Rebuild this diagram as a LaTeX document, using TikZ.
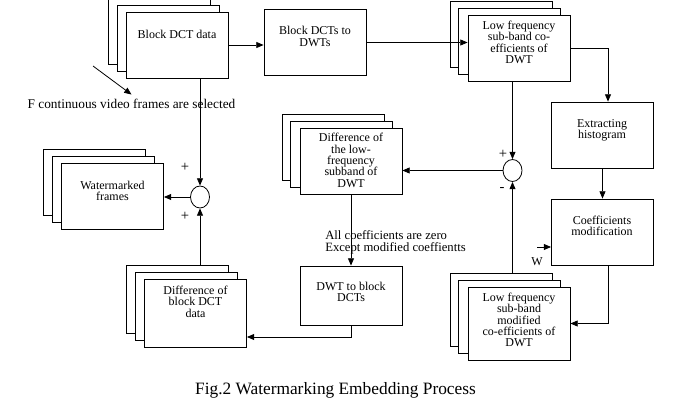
\documentclass[tikz,border=0pt]{standalone}
\usepackage{fontspec}
\setmainfont{Liberation Serif}
\usetikzlibrary{arrows.meta,shapes.geometric,shadows,calc}
\begin{document}
\begin{tikzpicture}[x=0.75pt,y=-0.75pt,
  blk/.style={draw,fill=white,line width=0.6pt,minimum width=76.5pt,minimum height=49.5pt,inner sep=0pt},
  stack/.style={blk,copy shadow={shadow xshift=-13.5pt,shadow yshift=10pt,line width=0.6pt},
    copy shadow={shadow xshift=-7pt,shadow yshift=5pt,line width=0.6pt}},
  txt/.style={align=center,font=\fontsize{9}{8.5}\selectfont,inner sep=0pt},
  sign/.style={inner sep=0pt,font=\fontsize{11}{11}\selectfont},
  sum/.style={draw,ellipse,line width=0.6pt,minimum width=14.25pt,minimum height=16.5pt,inner sep=0pt},
  arr/.style={line width=0.6pt,-{Triangle[length=5.5pt,width=4.5pt]}},
  note/.style={font=\fontsize{10}{11}\selectfont}]
  \useasboundingbox (0,0) rectangle (684,407);
  \node[stack] (bd) at (177.5,45) {};
  \node[txt] (bdt) at (177,34) {Block DCT data};
  \node[blk] (bdw) at (315,42.5) {};
  \node[txt] (bdwt) at (315,36.5) {Block DCTs to\\DWTs};
  \node[stack] (lf) at (519,48) {};
  \node[txt] (lft) at (519,42.5) {Low frequency\\sub-band co-\\efficients of\\DWT};
  \node[blk] (eh) at (602.5,135) {};
  \node[txt] (eht) at (602,130) {Extracting\\histogram};
  \node[blk] (cm) at (602.5,232) {};
  \node[txt] (cmt) at (602,226) {Coefficients\\modification};
  \node[stack,minimum height=54.75pt] (lfm) at (519,323.5) {};
  \node[txt] (lfmt) at (519,320) {Low frequency\\sub-band\\modified\\co-efficients of\\DWT};
  \node[stack] (dl) at (351,161) {};
  \node[txt] (dlt) at (351,160.5) {Difference of\\the low-\\frequency\\subband of\\DWT};
  \node[blk,minimum height=44.25pt] (dwt) at (351,295.5) {};
  \node[txt] (dwtt) at (351,292) {DWT to block\\DCTs};
  \node[stack,minimum height=51pt] (dbd) at (195.5,313) {};
  \node[txt] (dbdt) at (195.5,301.5) {Difference of\\block DCT\\data};
  \node[stack] (wm) at (112.5,196) {};
  \node[txt] (wmt) at (112.5,191) {Watermarked\\frames};
  \node[sum] (c1) at (200,197) {};
  \node[sum] (c2) at (512.5,170.5) {};
  \node[sign] (p1) at (185,167) {+};
  \node[sign] (p2) at (185,216) {+};
  \node[sign] (p3) at (503,154) {+};
  \node[sign] (m1) at (502,189) {-};
  \node[note] (fsel) at (131.5,104) {F continuous video frames are selected};
  \coordinate (fs) at (93,66);
  \node[txt,anchor=west,align=left,font=\fontsize{9.5}{8.7}\selectfont] (az) at (325,242.5) {All coefficients are zero\\Except modified coeffientts};
  \node[txt] (wl) at (537,262) {W};
  \coordinate (win) at (537,247);
  \node[font=\fontsize{13}{15}\selectfont] (cap) at (335.5,390) {Fig.2 Watermarking Embedding Process};
  \draw[arr] (fs) -- (fsel.north);
  \draw[arr] (bd.east) -- (bd.east -| bdw.west);
  \draw[arr] (bdw.east) -- (bdw.east -| lf.west);
  \draw[arr] (lf.east) -| ($(eh.north)+(5.5,0)$);
  \draw[arr] (eh.south) -- (cm.north);
  \draw[arr] ($(cm.south)+(5.5,0)$) |- (lfm.east);
  \draw[arr] (win) -- (win -| cm.west);
  \draw[arr] (lf.south -| c2.north) -- (c2.north);
  \draw[arr] ($(lfm.north -| c2.south)+(0,-13.3)$) -- (c2.south);
  \draw[arr] (c2.west) -- (c2.west -| dl.east);
  \draw[arr] (dl.south) -- (dwt.north);
  \draw[arr] (dwt.south) |- ($(dbd.east)+(0,24)$);
  \draw[arr] (bd.south -| c1.north) -- (c1.north);
  \draw[arr] ($(dbd.north -| c1.south)+(0,-13.3)$) -- (c1.south);
  \draw[arr] (c1.west) -- (c1.west -| wm.east);
\end{tikzpicture}
\end{document}
